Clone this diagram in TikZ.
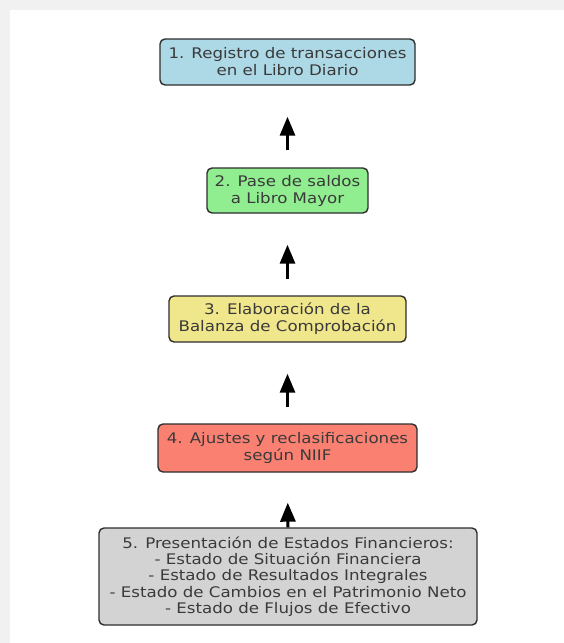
\documentclass[tikz,border=0pt]{standalone}
\usepackage{fontspec}
\setmainfont[FakeStretch=1.14]{DejaVu Sans}
\usetikzlibrary{arrows.meta}
\definecolor{bggray}{HTML}{F1F1F1}
\definecolor{txt}{HTML}{3A3A3A}
\definecolor{edge}{HTML}{2E2E2E}
\definecolor{cblue}{HTML}{ADD8E6}
\definecolor{cgreen}{HTML}{90EE90}
\definecolor{cyellow}{HTML}{F0E68C}
\definecolor{cred}{HTML}{FA8072}
\definecolor{cgray}{HTML}{D3D3D3}
\tikzset{
  stepbox/.style={draw=edge, line width=1.4pt, rounded corners=5pt, align=center,
    inner sep=0pt, text=txt, font=\fontsize{14.6}{17}\selectfont},
  flowarrow/.style={-{Triangle[length=19pt,width=15pt]}, line width=3pt, black}
}
\begin{document}
\begin{tikzpicture}[x=1pt,y=-1pt]
\useasboundingbox (0,0) rectangle (564,643);
\fill[bggray] (0,0) rectangle (564,643);
\fill[white] (10,10) rectangle (564,643);
\node[stepbox, fill=cblue, minimum width=255pt, minimum height=46pt] (b1) at (287.5,62)
  {1. Registro de transacciones\\en el Libro Diario};
\node[stepbox, fill=cgreen, minimum width=161pt, minimum height=45pt] (b2) at (287.5,190.5)
  {2. Pase de saldos\\a Libro Mayor};
\node[stepbox, fill=cyellow, minimum width=237pt, minimum height=46pt] (b3) at (287.5,319)
  {3. Elaboración de la\\Balanza de Comprobación};
\node[stepbox, fill=cred, minimum width=259pt, minimum height=48pt] (b4) at (287.5,448)
  {4. Ajustes y reclasificaciones\\según NIIF};
\node[stepbox, fill=cgray, minimum width=378pt, minimum height=97pt, font=\fontsize{14.6}{16.2}\selectfont] (b5) at (288,576.5)
  {5. Presentación de Estados Financieros:\\- Estado de Situación Financiera\\- Estado de Resultados Integrales\\- Estado de Cambios en el Patrimonio Neto\\- Estado de Flujos de Efectivo};
\draw[flowarrow, shorten <=17pt, shorten >=31pt] (b2.north) -- (b1.south);
\draw[flowarrow, shorten <=16pt, shorten >=31pt] (b3.north) -- (b2.south);
\draw[flowarrow, shorten <=16pt, shorten >=31pt] (b4.north) -- (b3.south);
\draw[flowarrow, shorten <=0pt, shorten >=30pt] (b5.north) -- (b4.south);
\end{tikzpicture}
\end{document}
